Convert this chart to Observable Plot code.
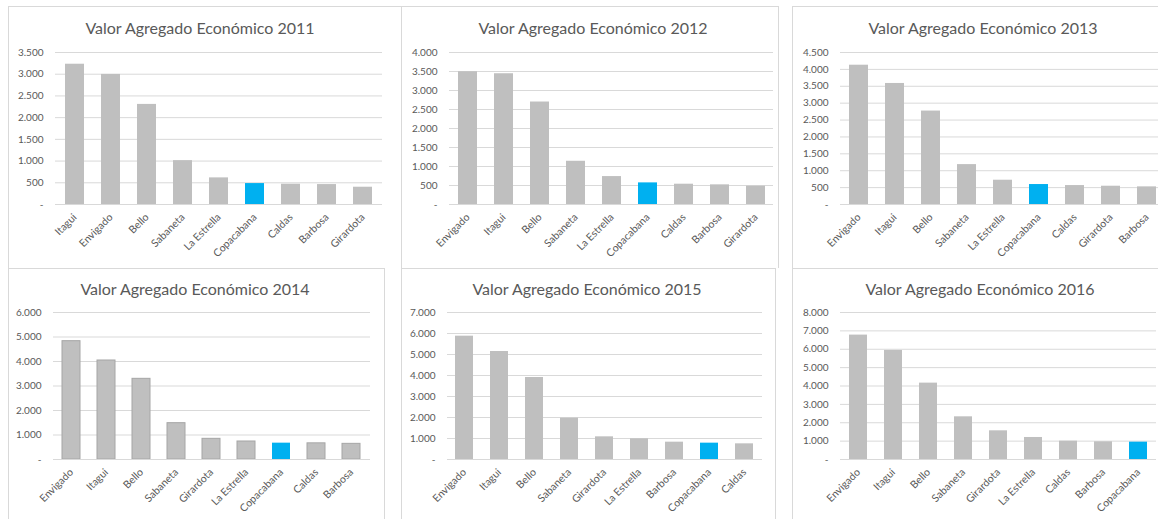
<!DOCTYPE html>
<html>
<head>
<meta charset="utf-8">
<script src="https://cdn.jsdelivr.net/npm/d3@7"></script>
<script src="https://cdn.jsdelivr.net/npm/@observablehq/plot@0.6"></script>
<style>
  html, body { margin: 0; padding: 0; background: #fff; }
  body { width: 1158px; height: 519px; overflow: hidden; font-family: Lato, "Open Sans", sans-serif; }
  #root { position: relative; width: 1158px; height: 519px; overflow: hidden; }
  .panel { position: absolute; box-sizing: border-box; border: 1px solid #d9d9d9; background: #fff; }
  .panel.top { border-bottom: none; }
  .title { position: absolute; transform: translate(-50%, -50%); white-space: nowrap; color: #595959; font-size: 16px; font-family: Lato, sans-serif; }
  svg { position: absolute; overflow: visible; }
</style>
</head>
<body>
<div id="root"></div>
<script>
// ---- data ----
const titlePrefix = "Valor Agregado Económico";
const highlight = "Copacabana";

const cities2011 = ["Itagui", "Envigado", "Bello", "Sabaneta", "La Estrella", "Copacabana", "Caldas", "Barbosa", "Girardota"];
const values2011 = [3230, 2995, 2305, 1010, 613, 482, 467, 459, 398];

const cities2012 = ["Envigado", "Itagui", "Bello", "Sabaneta", "La Estrella", "Copacabana", "Caldas", "Barbosa", "Girardota"];
const values2012 = [3494, 3441, 2697, 1138, 735, 569, 534, 517, 482];

const cities2013 = ["Envigado", "Itagui", "Bello", "Sabaneta", "La Estrella", "Copacabana", "Caldas", "Girardota", "Barbosa"];
const values2013 = [4124, 3583, 2766, 1181, 719, 591, 561, 541, 522];

const cities2014 = ["Envigado", "Itagui", "Bello", "Sabaneta", "Girardota", "La Estrella", "Copacabana", "Caldas", "Barbosa"];
const values2014 = [4830, 4041, 3293, 1483, 844, 735, 667, 660, 639];

const cities2015 = ["Envigado", "Itagui", "Bello", "Sabaneta", "Girardota", "La Estrella", "Barbosa", "Copacabana", "Caldas"];
const values2015 = [5873, 5143, 3905, 1968, 1079, 984, 825, 778, 746];

const cities2016 = ["Envigado", "Itagui", "Bello", "Sabaneta", "Girardota", "La Estrella", "Caldas", "Barbosa", "Copacabana"];
const values2016 = [6770, 5935, 4156, 2323, 1561, 1198, 998, 962, 944];

// y-axis tick values per chart
const ticks2011 = [0, 500, 1000, 1500, 2000, 2500, 3000, 3500];
const ticks2012 = [0, 500, 1000, 1500, 2000, 2500, 3000, 3500, 4000];
const ticks2013 = [0, 500, 1000, 1500, 2000, 2500, 3000, 3500, 4000, 4500];
const ticks2014 = [0, 1000, 2000, 3000, 4000, 5000, 6000];
const ticks2015 = [0, 1000, 2000, 3000, 4000, 5000, 6000, 7000];
const ticks2016 = [0, 1000, 2000, 3000, 4000, 5000, 6000, 7000, 8000];

// ---- layout (page coordinates) ----
const charts = [
  {year: 2011, cities: cities2011, values: values2011, ticks: ticks2011, row: "top",
   box: [8, 6, 394, 262], gx: [55, 382], gy: [52, 204], title: [200, 27]},
  {year: 2012, cities: cities2012, values: values2012, ticks: ticks2012, row: "top",
   box: [401, 6, 378, 262], gx: [449, 773], gy: [52, 204], title: [593, 27]},
  {year: 2013, cities: cities2013, values: values2013, ticks: ticks2013, row: "top",
   box: [792, 6, 420, 262], gx: [840, 1165], gy: [52, 204], title: [983, 27]},
  {year: 2014, cities: cities2014, values: values2014, ticks: ticks2014, outlined: true, row: "bottom",
   box: [8, 268, 377, 300], gx: [53, 370], gy: [312, 459], title: [195, 288]},
  {year: 2015, cities: cities2015, values: values2015, ticks: ticks2015, row: "bottom",
   box: [401, 268, 375, 300], gx: [447, 762], gy: [312, 459], title: [587, 288]},
  {year: 2016, cities: cities2016, values: values2016, ticks: ticks2016, row: "bottom",
   box: [792, 268, 420, 300], gx: [840, 1156], gy: [312, 459], title: [980, 288]}
];

const root = document.getElementById("root");
const fmt = d => d === 0 ? "-" : d3.format(",")(d).replace(/,/g, ".");

for (const c of charts) {
  const [bl, bt, bw, bh] = c.box;
  const panel = document.createElement("div");
  panel.className = "panel " + c.row;
  Object.assign(panel.style, {left: bl + "px", top: bt + "px", width: bw + "px", height: bh + "px"});
  root.appendChild(panel);
}

for (const c of charts) {
  const [bl] = c.box;
  const title = document.createElement("div");
  title.className = "title";
  title.textContent = `${titlePrefix} ${c.year}`;
  Object.assign(title.style, {left: c.title[0] + "px", top: c.title[1] + "px"});
  root.appendChild(title);

  const data = c.cities.map((city, i) => ({city, value: c.values[i]}));
  const svgLeft = bl + 1;
  const svgTop = c.gy[0] - 12;
  const width = c.gx[1] - svgLeft + 10;
  const marginLeft = c.gx[0] - svgLeft;
  const marginTop = c.gy[0] - svgTop;
  const marginBottom = 75;
  const height = marginTop + (c.gy[1] - c.gy[0]) + marginBottom;
  const yMax = c.ticks[c.ticks.length - 1];

  const chart = Plot.plot({
    width, height,
    marginLeft, marginRight: 10, marginTop, marginBottom,
    style: {fontFamily: "Lato, sans-serif", fontSize: "10px", color: "#595959", background: "transparent", overflow: "visible"},
    x: {domain: c.cities, paddingInner: 0.48, paddingOuter: 0.24, label: null},
    y: {domain: [0, yMax], label: null},
    color: {type: "identity"},
    marks: [
      Plot.gridY(c.ticks, {stroke: "#d9d9d9", strokeOpacity: 1}),
      Plot.axisY(c.ticks, {tickSize: 0, tickPadding: 12, tickFormat: fmt, label: null, fill: "#595959"}),
      Plot.barY(data, {
        x: "city", y: "value",
        fill: d => d.city === highlight ? "#00b0f0" : "#bfbfbf",
        stroke: d => (c.outlined && d.city !== highlight) ? "#a6a6a6" : "none",
        strokeWidth: 1
      }),
      Plot.ruleY([0], {stroke: "#d9d9d9"}),
      Plot.axisX({tickRotate: -45, tickSize: 0, tickPadding: 11, fontSize: 10.5, label: null, fill: "#595959"})
    ]
  });
  chart.style.left = svgLeft + "px";
  chart.style.top = svgTop + "px";
  root.appendChild(chart);
}
</script>
</body>
</html>
